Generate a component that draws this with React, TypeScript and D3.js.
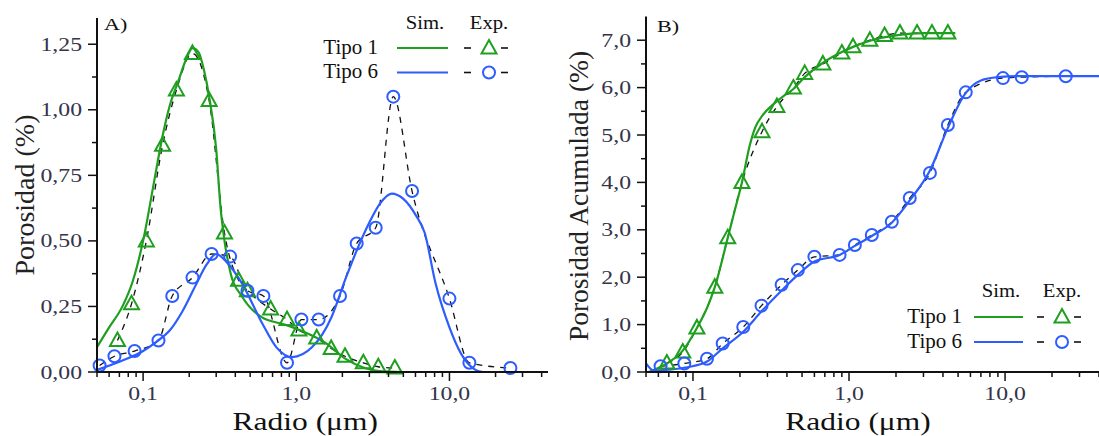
import React, { useEffect, useRef } from 'react';
import * as d3 from 'd3';

// ---- ticks ----
const xMajor = [0.1, 1, 10];
const xMajorLabels = ['0,1', '1,0', '10,0'];
const yMajorA = [0, 0.25, 0.5, 0.75, 1, 1.25];
const yLabelsA = ['0,00', '0,25', '0,50', '0,75', '1,00', '1,25'];
const yMinorA = [0.125, 0.375, 0.625, 0.875, 1.125];
const yMajorB = [0, 1, 2, 3, 4, 5, 6, 7];
const yLabelsB = ['0,0', '1,0', '2,0', '3,0', '4,0', '5,0', '6,0', '7,0'];
const yMinorB = [0.5, 1.5, 2.5, 3.5, 4.5, 5.5, 6.5];

// ---- panel A: porosidad (%) ----
const simT1RadioA = [0.05, 0.06, 0.074, 0.086, 0.1, 0.12, 0.134, 0.15, 0.17, 0.19, 0.21, 0.23, 0.25, 0.27, 0.3, 0.32, 0.34, 0.375, 0.44, 0.59, 0.85, 1.1, 1.56, 2.1, 2.8, 3.5, 5];
const simT1PorA = [0.095, 0.17, 0.255, 0.35, 0.5, 0.75, 0.9, 1.02, 1.11, 1.19, 1.235, 1.22, 1.15, 1.05, 0.85, 0.63, 0.5, 0.37, 0.29, 0.21, 0.18, 0.155, 0.11, 0.05, 0.015, 0.003, 0];

const simT6RadioA = [0.05, 0.074, 0.1, 0.122, 0.15, 0.18, 0.22, 0.26, 0.3, 0.35, 0.44, 0.6, 0.74, 0.94, 1.27, 1.7, 2.08, 2.55, 3.0, 3.5, 4.2, 5.0, 6.0, 6.9, 8.1, 10, 11.9, 14.6, 16.5];
const simT6PorA = [0.008, 0.045, 0.08, 0.115, 0.16, 0.23, 0.33, 0.41, 0.45, 0.42, 0.34, 0.185, 0.095, 0.057, 0.095, 0.21, 0.35, 0.48, 0.57, 0.64, 0.68, 0.66, 0.6, 0.53, 0.34, 0.17, 0.07, 0.01, 0];

const expT1RadioA = [0.068, 0.084, 0.105, 0.134, 0.165, 0.21, 0.27, 0.34, 0.42, 0.48, 0.68, 0.87, 1.04, 1.36, 1.69, 2.08, 2.74, 3.43, 4.4];
const expT1PorA = [0.12, 0.26, 0.5, 0.865, 1.075, 1.215, 1.035, 0.53, 0.35, 0.31, 0.24, 0.2, 0.16, 0.13, 0.09, 0.06, 0.035, 0.02, 0.015];

const expT6RadioA = [0.052, 0.065, 0.088, 0.126, 0.155, 0.21, 0.28, 0.37, 0.48, 0.61, 0.87, 1.08, 1.4, 1.93, 2.48, 3.3, 4.3, 5.7, 10, 13.5, 25];
const expT6PorA = [0.025, 0.06, 0.08, 0.12, 0.29, 0.36, 0.45, 0.44, 0.31, 0.29, 0.035, 0.2, 0.2, 0.29, 0.49, 0.55, 1.05, 0.69, 0.28, 0.035, 0.015];

// ---- panel B: porosidad acumulada (%) ----
const simT1RadioB = [0.052, 0.068, 0.086, 0.106, 0.123, 0.138, 0.167, 0.19, 0.206, 0.23, 0.25, 0.28, 0.32, 0.38, 0.44, 0.52, 0.7, 0.9, 1.1, 1.4, 2, 3, 4.8];
const simT1PorB = [0, 0.18, 0.45, 0.93, 1.35, 1.79, 2.83, 3.55, 4.0, 4.75, 5.15, 5.42, 5.62, 5.82, 5.97, 6.22, 6.55, 6.75, 6.88, 7.0, 7.1, 7.15, 7.15];

const simT6RadioB = [0.05, 0.056, 0.07, 0.092, 0.123, 0.155, 0.21, 0.275, 0.37, 0.47, 0.6, 0.87, 1.09, 1.4, 1.88, 2.45, 3.3, 4.3, 5.5, 7.0, 9.0, 12, 40];
const simT6PorB = [0.18, 0.03, 0.05, 0.1, 0.22, 0.5, 0.85, 1.28, 1.72, 2.05, 2.33, 2.47, 2.66, 2.87, 3.15, 3.62, 4.25, 5.15, 5.85, 6.15, 6.22, 6.24, 6.24];

const expT1RadioB = [0.068, 0.086, 0.106, 0.138, 0.167, 0.206, 0.277, 0.345, 0.44, 0.52, 0.68, 0.9, 1.06, 1.36, 1.69, 2.12, 2.73, 3.4, 4.3];
const expT1PorB = [0.19, 0.42, 0.93, 1.79, 2.83, 4.0, 5.07, 5.6, 5.99, 6.3, 6.5, 6.73, 6.86, 7.0, 7.1, 7.15, 7.15, 7.15, 7.15];

const expT6RadioB = [0.062, 0.088, 0.123, 0.155, 0.21, 0.275, 0.37, 0.47, 0.6, 0.87, 1.09, 1.4, 1.88, 2.45, 3.3, 4.3, 5.6, 9.7, 12.8, 24.5];
const expT6PorB = [0.12, 0.18, 0.28, 0.6, 0.95, 1.4, 1.84, 2.15, 2.43, 2.47, 2.68, 2.89, 3.17, 3.67, 4.2, 5.21, 5.9, 6.2, 6.22, 6.24];

const GREEN = '#1f9f1f';
const BLUE = '#2d5cff';
const TICK_INK = '#34344a';
const SERIF = '"Liberation Serif", "Times New Roman", serif';

const zip = (xs: number[], ys: number[]) => xs.map((r, i) => [r, ys[i]] as [number, number]);

// text stretched horizontally, like the original rendering
function stext(parent: any, x: number, y: number, txt: string, size: number, sx: number, anchor = 'start', fill = '#111') {
  parent.append('g')
    .attr('transform', `translate(${x},${y}) scale(${sx},1)`)
    .append('text')
    .attr('text-anchor', anchor)
    .attr('fill', fill)
    .style('font-family', SERIF)
    .style('font-size', `${size}px`)
    .text(txt);
}

function triangle(parent: any, cx: number, cy: number, color: string) {
  parent.append('path')
    .attr('d', `M${cx},${cy - 8} L${cx + 7.5},${cy + 5.5} L${cx - 7.5},${cy + 5.5} Z`)
    .attr('fill', 'none')
    .attr('stroke', color)
    .attr('stroke-width', 2);
}

function ring(parent: any, cx: number, cy: number, color: string) {
  parent.append('circle')
    .attr('cx', cx).attr('cy', cy).attr('r', 6)
    .attr('fill', 'none')
    .attr('stroke', color)
    .attr('stroke-width', 2);
}

function drawPanel(svg: any, cfg: any) {
  const x = d3.scaleLog().domain(cfg.xDomain).range(cfg.xRange);
  const y = d3.scaleLinear().domain(cfg.yDomain).range(cfg.yRange);
  const [x0] = cfg.xRange;
  const y0 = cfg.yRange[0];
  const g = svg.append('g');

  const line = d3.line<[number, number]>()
    .x(d => x(d[0]))
    .y(d => y(d[1]))
    .curve(d3.curveMonotoneX);

  // experimental: black dashed guide
  [cfg.expT1, cfg.expT6].forEach((data: [number, number][]) => {
    g.append('path')
      .datum(data)
      .attr('d', line)
      .attr('fill', 'none')
      .attr('stroke', '#111')
      .attr('stroke-width', 1.3)
      .attr('stroke-dasharray', '6,6');
  });

  // simulated curves
  g.append('path').datum(cfg.simT1).attr('d', line)
    .attr('fill', 'none').attr('stroke', GREEN).attr('stroke-width', 2.2);
  g.append('path').datum(cfg.simT6).attr('d', line)
    .attr('fill', 'none').attr('stroke', BLUE).attr('stroke-width', 2.2);

  // markers
  cfg.expT1.forEach((d: [number, number]) => triangle(g, x(d[0]), y(d[1]), GREEN));
  cfg.expT6.forEach((d: [number, number]) => ring(g, x(d[0]), y(d[1]), BLUE));

  // axes
  const axis = g.append('g').attr('stroke', '#111');
  axis.append('line').attr('x1', x0).attr('x2', x0).attr('y1', y0).attr('y2', cfg.yRange[1]).attr('stroke-width', 2);
  axis.append('line').attr('x1', x0).attr('x2', cfg.xRange[1]).attr('y1', y0).attr('y2', y0).attr('stroke-width', 2);

  x.ticks().forEach(t => {
    const major = xMajor.includes(t);
    axis.append('line').attr('x1', x(t)).attr('x2', x(t))
      .attr('y1', y0).attr('y2', y0 + (major ? 9 : 5)).attr('stroke-width', 1.5);
  });
  cfg.yMajor.forEach((t: number) => {
    axis.append('line').attr('x1', x0 - 9).attr('x2', x0).attr('y1', y(t)).attr('y2', y(t)).attr('stroke-width', 1.5);
  });
  cfg.yMinor.forEach((t: number) => {
    axis.append('line').attr('x1', x0 - 5).attr('x2', x0).attr('y1', y(t)).attr('y2', y(t)).attr('stroke-width', 1.5);
  });

  xMajor.forEach((t, i) => stext(g, x(t), y0 + 28, xMajorLabels[i], 19, 1.25, 'middle', TICK_INK));
  cfg.yMajor.forEach((t: number, i: number) => stext(g, x0 - 15, y(t) + 6.5, cfg.yLabels[i], 19, 1.25, 'end', TICK_INK));

  // titles
  stext(g, x(1) + 9, 430, 'Radio (μm)', 25, 1.26, 'middle', '#111');
  g.append('text')
    .attr('transform', `translate(${cfg.yTitleX},${cfg.yTitleY}) rotate(-90)`)
    .attr('text-anchor', 'middle')
    .attr('fill', '#222')
    .style('font-family', SERIF)
    .style('font-size', `${cfg.yTitleSize}px`)
    .text(cfg.yTitle);
  stext(g, x0 + cfg.tagDx, cfg.tagY, cfg.tag, 17, 1.3, 'start', '#111');

  // legend
  const L = cfg.legend;
  stext(g, L.simX, L.headY, 'Sim.', 18, 1.15, 'middle', '#111');
  stext(g, L.expX, L.headY, 'Exp.', 18, 1.15, 'middle', '#111');
  [['Tipo 1', GREEN, L.rows[0]], ['Tipo 6', BLUE, L.rows[1]]].forEach(([name, color, ry]: any, i) => {
    stext(g, L.textEnd, ry + 5.5, name, 21, 1, 'end', '#111');
    g.append('line').attr('x1', L.line[0]).attr('x2', L.line[1]).attr('y1', ry).attr('y2', ry)
      .attr('stroke', color).attr('stroke-width', 2.2);
    g.append('line').attr('x1', L.expX - 25).attr('x2', L.expX - 18).attr('y1', ry).attr('y2', ry)
      .attr('stroke', '#111').attr('stroke-width', 1.6);
    g.append('line').attr('x1', L.expX + 12).attr('x2', L.expX + 19).attr('y1', ry).attr('y2', ry)
      .attr('stroke', '#111').attr('stroke-width', 1.6);
    if (i === 0) triangle(g, L.expX, ry, color);
    else ring(g, L.expX, ry, color);
  });
}

const App = () => {
  const ref = useRef<SVGSVGElement | null>(null);

  useEffect(() => {
    const svg = d3.select(ref.current);
    svg.selectAll('*').remove();

    drawPanel(svg, {
      xDomain: [0.05, 44], xRange: [97, 548],
      yDomain: [0, 1.35], yRange: [372, 18],
      yMajor: yMajorA, yMinor: yMinorA, yLabels: yLabelsA,
      simT1: zip(simT1RadioA, simT1PorA), simT6: zip(simT6RadioA, simT6PorA),
      expT1: zip(expT1RadioA, expT1PorA), expT6: zip(expT6RadioA, expT6PorA),
      yTitle: 'Porosidad (%)', yTitleX: 34, yTitleY: 195, yTitleSize: 28,
      tag: 'A)', tagDx: 7, tagY: 30,
      legend: { simX: 425, expX: 489, headY: 29, textEnd: 378, line: [397, 448], rows: [48, 72.5] },
    });

    drawPanel(svg, {
      xDomain: [0.05, 40], xRange: [646, 1099],
      yDomain: [0, 7.5], yRange: [372, 16.5],
      yMajor: yMajorB, yMinor: yMinorB, yLabels: yLabelsB,
      simT1: zip(simT1RadioB, simT1PorB), simT6: zip(simT6RadioB, simT6PorB),
      expT1: zip(expT1RadioB, expT1PorB), expT6: zip(expT6RadioB, expT6PorB),
      yTitle: 'Porosidad Acumulada (%)', yTitleX: 588, yTitleY: 196, yTitleSize: 27.5,
      tag: 'B)', tagDx: 11, tagY: 32,
      legend: { simX: 1001, expX: 1062, headY: 297, textEnd: 962, line: [974, 1023], rows: [317, 342] },
    });
  }, []);

  return (
    <svg
      ref={ref}
      width={1099}
      height={436}
      style={{ position: 'absolute', left: 0, top: 0, background: '#fff' }}
    />
  );
};

export default App;
